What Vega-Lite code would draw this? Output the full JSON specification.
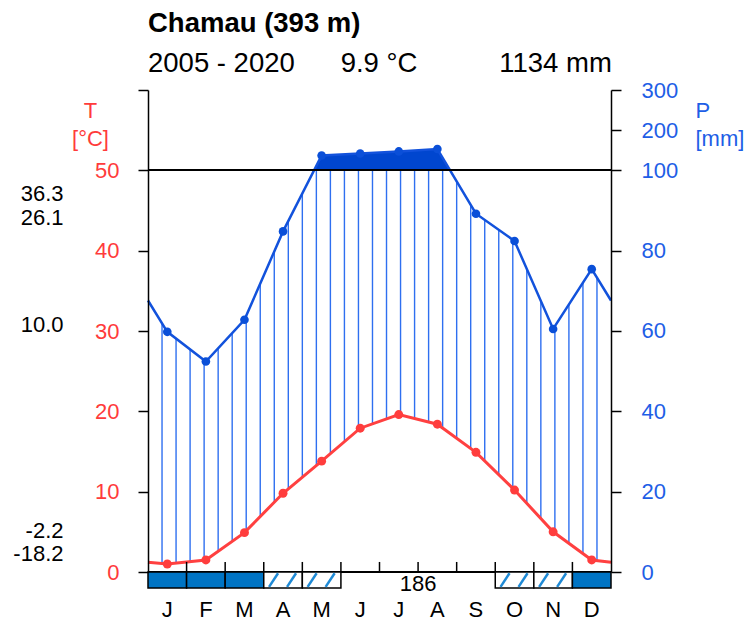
{
  "$schema": "https://vega.github.io/schema/vega-lite/v6.json",
  "width": 463,
  "height": 500,
  "autosize": "none",
  "padding": {"left": 148, "top": 90, "right": 135, "bottom": 38},
  "config": {"view": {"stroke": null}, "font": "Liberation Sans"},
  "title": {
    "text": "Chamau (393 m)",
    "subtitle": "2005 - 2020\u00a0\u00a0\u00a0\u00a0\u00a0\u00a09.9 °C\u00a0\u00a0\u00a0\u00a0\u00a0\u00a0\u00a0\u00a0\u00a0\u00a0\u20091134 mm",
    "anchor": "start",
    "frame": "group",
    "font": "Liberation Sans",
    "fontSize": 27.5,
    "fontWeight": "bold",
    "color": "black",
    "subtitleFont": "Liberation Sans",
    "subtitleFontSize": 27.5,
    "subtitleColor": "black",
    "subtitlePadding": 12,
    "offset": 2
  },
  "datasets": {
    "clim": [
      {"m": 0.5, "T": 1.2, "P": 67.6, "edge": true},
      {"m": 1, "month": "Jan", "lab": "J", "T": 1.0, "P": 59.8},
      {"m": 2, "month": "Feb", "lab": "F", "T": 1.5, "P": 52.4},
      {"m": 3, "month": "Mar", "lab": "M", "T": 4.9, "P": 62.8},
      {"m": 4, "month": "Apr", "lab": "A", "T": 9.8, "P": 84.8},
      {"m": 5, "month": "May", "lab": "M", "T": 13.8, "P": 137},
      {"m": 6, "month": "Jun", "lab": "J", "T": 17.9, "P": 142},
      {"m": 7, "month": "Jul", "lab": "J", "T": 19.6, "P": 147},
      {"m": 8, "month": "Aug", "lab": "A", "T": 18.4, "P": 153},
      {"m": 9, "month": "Sep", "lab": "S", "T": 14.9, "P": 89.2},
      {"m": 10, "month": "Oct", "lab": "O", "T": 10.2, "P": 82.4},
      {"m": 11, "month": "Nov", "lab": "N", "T": 5.0, "P": 60.5},
      {"m": 12, "month": "Dec", "lab": "D", "T": 1.5, "P": 75.4},
      {"m": 12.5, "T": 1.2, "P": 67.6, "edge": true}
    ],
    "hatch": [
      {"h": 0.8636}, {"h": 1.2273}, {"h": 1.5909}, {"h": 1.9545}, {"h": 2.3182}, {"h": 2.6818},
      {"h": 3.0455}, {"h": 3.4091}, {"h": 3.7727}, {"h": 4.1364}, {"h": 4.5}, {"h": 4.8636},
      {"h": 5.2273}, {"h": 5.5909}, {"h": 5.9545}, {"h": 6.3182}, {"h": 6.6818}, {"h": 7.0455},
      {"h": 7.4091}, {"h": 7.7727}, {"h": 8.1364}, {"h": 8.5}, {"h": 8.8636}, {"h": 9.2273},
      {"h": 9.5909}, {"h": 9.9545}, {"h": 10.3182}, {"h": 10.6818}, {"h": 11.0455}, {"h": 11.4091},
      {"h": 11.7727}, {"h": 12.1364}
    ],
    "frost": [
      {"m": 1, "kind": "solid"},
      {"m": 2, "kind": "solid"},
      {"m": 3, "kind": "solid"},
      {"m": 4, "kind": "hatch"},
      {"m": 5, "kind": "hatch"},
      {"m": 10, "kind": "hatch"},
      {"m": 11, "kind": "hatch"},
      {"m": 12, "kind": "solid"}
    ],
    "info": [{"frostFreeDays": 186}]
  },
  "resolve": {"scale": {"y": "independent"}},
  "layer": [
    {
      "data": {"name": "clim"},
      "layer": [
        {
          "data": {"name": "hatch"},
          "mark": {"type": "rule", "color": "#2e6ff0", "strokeWidth": 1.4},
          "encoding": {
            "x": {"field": "h", "type": "quantitative", "axis": null},
            "y": {"datum": 0, "type": "quantitative"},
            "y2": {"datum": 100}
          }
        },
        {
          "mark": {"type": "area", "color": "#0046cf"},
          "encoding": {
            "x": {
              "field": "m", "type": "quantitative",
              "scale": {"domain": [0.5, 12.5], "nice": false, "zero": false, "padding": 0},
              "axis": null
            },
            "y": {
              "field": "P", "type": "quantitative",
              "scale": {"domain": [0, 100, 300], "range": [482, 80.33, 0], "nice": false, "zero": false},
              "axis": {
                "orient": "right",
                "values": [0, 20, 40, 60, 80, 100, 200, 300],
                "grid": false, "domain": true, "domainColor": "black", "domainWidth": 1.5,
                "ticks": true, "tickSize": 10, "tickColor": "black", "tickWidth": 1.5,
                "labelColor": "#1e5ee6", "labelFontSize": 22, "labelPadding": 20,
                "labelOverlap": false, "labelBound": false, "labelFlush": false,
                "title": ["P", "[mm]"], "titleColor": "#1e5ee6", "titleFontSize": 22,
                "titleFontWeight": "normal", "titleAngle": 0, "titleAlign": "left",
                "titleBaseline": "top", "titleX": 84, "titleY": 10, "titleLineHeight": 28,
                "zindex": 1
              }
            },
            "y2": {"datum": 100}
          }
        },
        {
          "mark": {"type": "area", "color": "white"},
          "encoding": {
            "x": {"field": "m", "type": "quantitative", "axis": null},
            "y": {"field": "P", "type": "quantitative"},
            "y2": {"datum": 300}
          }
        },
        {
          "mark": {"type": "line", "color": "#1252dc", "strokeWidth": 2.5},
          "encoding": {
            "x": {"field": "m", "type": "quantitative", "axis": null},
            "y": {"field": "P", "type": "quantitative"}
          }
        },
        {
          "transform": [{"filter": "!datum.edge"}],
          "mark": {"type": "circle", "color": "#0a4fd8", "size": 75, "opacity": 1},
          "encoding": {
            "x": {"field": "m", "type": "quantitative", "axis": null},
            "y": {"field": "P", "type": "quantitative"}
          }
        }
      ]
    },
    {
      "data": {"name": "clim"},
      "layer": [
        {
          "mark": {"type": "area", "color": "white"},
          "encoding": {
            "x": {"field": "m", "type": "quantitative", "axis": null},
            "y": {
              "field": "T", "type": "quantitative",
              "scale": {"domain": [0, 60], "range": [482, 0], "nice": false, "zero": false},
              "axis": {
                "orient": "left",
                "values": [0, 10, 20, 30, 40, 50, 60, 47.16, 44.08, 30.8, 5.2, 2.3],
                "grid": false, "domain": true, "domainColor": "black", "domainWidth": 1.5,
                "ticks": true, "tickSize": 10, "tickColor": "black", "tickWidth": 1.5,
                "tickOpacity": {"condition": {"test": "datum.value % 10 === 0", "value": 1}, "value": 0},
                "labelExpr": "datum.value % 10 === 0 ? (datum.value < 60 ? datum.label : '') : datum.value > 46 ? '36.3' : datum.value > 40 ? '26.1' : datum.value > 20 ? '10.0' : datum.value > 4 ? '-2.2' : '-18.2'",
                "labelFontSize": 22,
                "labelColor": {"condition": {"test": "datum.value % 10 === 0", "value": "#ff3b3b"}, "value": "black"},
                "labelPadding": {"condition": {"test": "datum.value % 10 === 0", "value": 19}, "value": 75},
                "labelOverlap": false, "labelBound": false, "labelFlush": false,
                "title": ["T", "[°C]"], "titleColor": "#ff3b3b", "titleFontSize": 22,
                "titleFontWeight": "normal", "titleAngle": 0, "titleAlign": "center",
                "titleBaseline": "top", "titleX": -58, "titleY": 10, "titleLineHeight": 28,
                "zindex": 1
              }
            },
            "y2": {"datum": 0}
          }
        },
        {
          "mark": {"type": "rule", "color": "black", "strokeWidth": 1.5},
          "encoding": {"y": {"datum": 50, "type": "quantitative"}}
        },
        {
          "mark": {"type": "rule", "color": "black", "strokeWidth": 1.5},
          "encoding": {"y": {"datum": 0, "type": "quantitative"}}
        },
        {
          "mark": {"type": "line", "color": "#ff4040", "strokeWidth": 3},
          "encoding": {
            "x": {"field": "m", "type": "quantitative", "axis": null},
            "y": {"field": "T", "type": "quantitative"}
          }
        },
        {
          "transform": [{"filter": "!datum.edge"}],
          "mark": {"type": "circle", "color": "#ff3d3d", "size": 80, "opacity": 1},
          "encoding": {
            "x": {"field": "m", "type": "quantitative", "axis": null},
            "y": {"field": "T", "type": "quantitative"}
          }
        },
        {
          "data": {"name": "frost"},
          "mark": {"type": "bar", "width": {"expr": "width/12"}, "stroke": "black", "strokeWidth": 1.5},
          "encoding": {
            "x": {"field": "m", "type": "quantitative", "axis": null},
            "y": {"datum": 0, "type": "quantitative"},
            "y2": {"datum": -2},
            "color": {"field": "kind", "type": "nominal", "scale": {"domain": ["solid", "hatch"], "range": ["#0074c4", "white"]}, "legend": null}
          }
        },
        {
          "data": {"name": "frost"},
          "transform": [{"filter": "datum.kind === 'hatch'"}],
          "mark": {"type": "rule", "color": "#1f8ad6", "strokeWidth": 2.5, "xOffset": -14, "x2Offset": -5},
          "encoding": {
            "x": {"field": "m", "type": "quantitative", "axis": null},
            "x2": {"field": "m"},
            "y": {"datum": -1.85, "type": "quantitative"},
            "y2": {"datum": -0.15}
          }
        },
        {
          "data": {"name": "frost"},
          "transform": [{"filter": "datum.kind === 'hatch'"}],
          "mark": {"type": "rule", "color": "#1f8ad6", "strokeWidth": 2.5, "xOffset": 4, "x2Offset": 13},
          "encoding": {
            "x": {"field": "m", "type": "quantitative", "axis": null},
            "x2": {"field": "m"},
            "y": {"datum": -1.85, "type": "quantitative"},
            "y2": {"datum": -0.15}
          }
        },
        {
          "transform": [{"filter": "!datum.edge && datum.m < 12"}],
          "mark": {"type": "rule", "color": "black", "strokeWidth": 1.5, "xOffset": {"expr": "width/24"}},
          "encoding": {
            "x": {"field": "m", "type": "quantitative", "axis": null},
            "y": {"datum": 0, "type": "quantitative"},
            "y2": {"datum": 1.25}
          }
        },
        {
          "transform": [{"filter": "!datum.edge"}],
          "mark": {"type": "text", "fontSize": 22, "color": "black", "baseline": "middle", "align": "center"},
          "encoding": {
            "x": {"field": "m", "type": "quantitative", "axis": null},
            "y": {"datum": -4.75, "type": "quantitative"},
            "text": {"field": "lab", "type": "nominal"}
          }
        },
        {
          "data": {"name": "info"},
          "mark": {"type": "text", "fontSize": 22, "color": "black", "baseline": "middle", "align": "center"},
          "encoding": {
            "x": {"datum": 7.5, "type": "quantitative", "axis": null},
            "y": {"datum": -1.5, "type": "quantitative"},
            "text": {"field": "frostFreeDays", "type": "quantitative"}
          }
        }
      ]
    }
  ]
}
